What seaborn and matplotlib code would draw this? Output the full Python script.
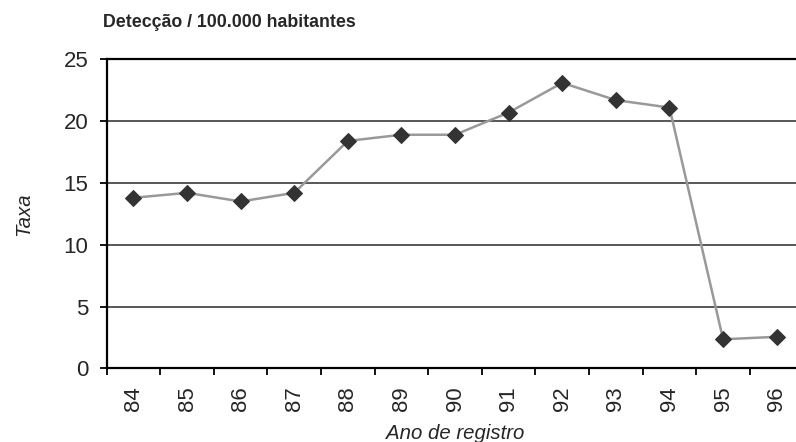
import numpy as np
import pandas as pd
import matplotlib
matplotlib.use("Agg")
import matplotlib.pyplot as plt
import seaborn as sns

# Valores
anos = ["84", "85", "86", "87", "88", "89", "90", "91", "92", "93", "94", "95", "96"]
taxa = [13.8, 14.2, 13.5, 14.2, 18.4, 18.9, 18.9, 20.7, 23.1, 21.7, 21.1, 2.35, 2.55]
y_ticks = [0, 5, 10, 15, 20, 25]

df = pd.DataFrame({"ano": anos, "taxa": taxa})

sns.set_style("white")
plt.rcParams["font.family"] = ["Liberation Sans", "DejaVu Sans"]

fig = plt.figure(figsize=(7.96, 4.42), dpi=100)
ax = fig.add_axes([0.134, 0.1667, 0.8754, 0.699])

# Grade horizontal
for v in y_ticks[1:-1]:
    ax.axhline(v, color="#2a2a2a", lw=1.1, zorder=1)

sns.lineplot(data=df, x="ano", y="taxa", ax=ax, color="#999999", lw=1.8,
             marker="D", markersize=8.2, markerfacecolor="#333333",
             markeredgecolor="#333333", sort=False, zorder=3)

ax.set_xlim(-0.5, len(anos) - 0.5)
ax.set_ylim(0, 25)
ax.set_yticks(y_ticks)
ax.set_yticklabels([str(v) for v in y_ticks])

# ticks nos limites das categorias, rotulos no centro
ax.set_xticks(np.arange(-0.5, len(anos), 1))
ax.set_xticklabels([])
ax.set_xticks(np.arange(len(anos)), minor=True)
ax.set_xticklabels(anos, minor=True, rotation=90, fontsize=16)
ax.tick_params(axis="x", which="major", direction="out", length=5, width=1.3,
               color="black", bottom=True)
ax.tick_params(axis="x", which="minor", length=0, pad=13)
ax.tick_params(axis="y", direction="out", length=5, width=1.3, color="black",
               left=True, labelsize=16, pad=8)

for s in ["left", "bottom"]:
    ax.spines[s].set_color("black")
    ax.spines[s].set_linewidth(1.6)
ax.spines["top"].set_color("black")
ax.spines["top"].set_linewidth(1.6)
ax.spines["right"].set_visible(False)

ax.set_xlabel("Ano de registro", fontsize=14.7, style="italic", labelpad=9)
ax.set_ylabel("Taxa", fontsize=14.7, style="italic", labelpad=22)

fig.text(0.129, 0.94, "Detecção / 100.000 habitantes", fontsize=12.8,
         fontweight="bold", ha="left", va="baseline")

fig.savefig("out.png", dpi=100)
